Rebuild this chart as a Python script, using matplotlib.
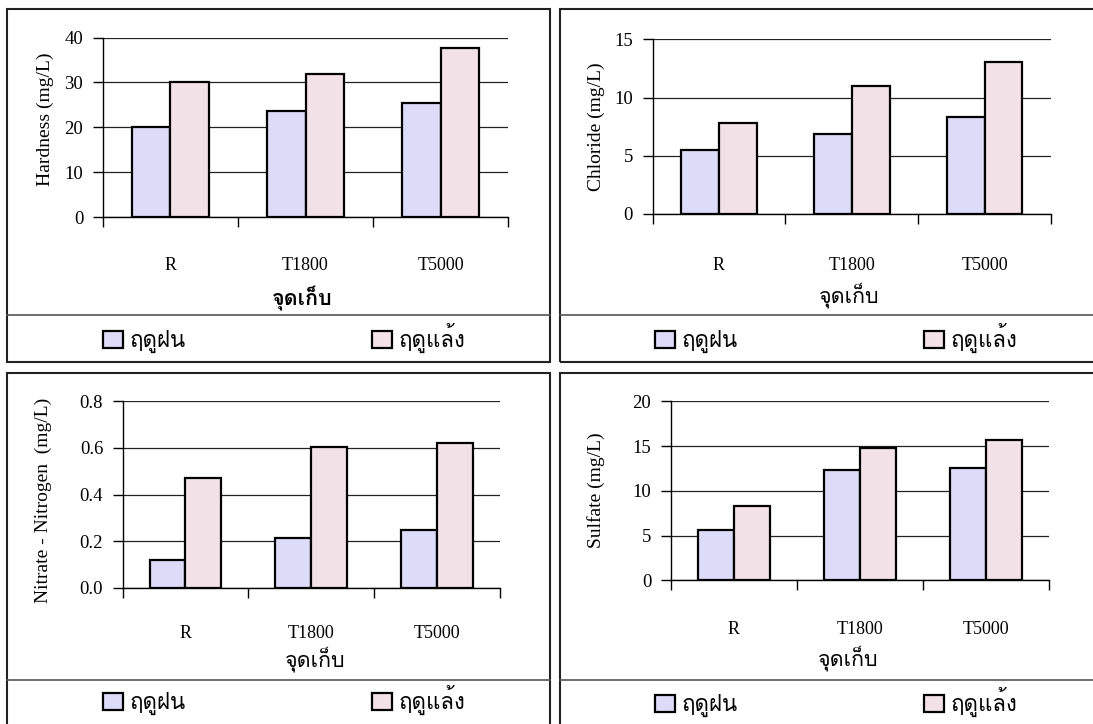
import numpy as np
import matplotlib
matplotlib.use('Agg')
import matplotlib.pyplot as plt
from matplotlib import font_manager
from matplotlib.ft2font import FT2Font
from matplotlib.patches import Rectangle
from matplotlib.lines import Line2D
from matplotlib.ticker import FormatStrFormatter

# sampling points and seasons
categories = ['R', 'T1800', 'T5000']
seasons = ['ฤดูฝน', 'ฤดูแล้ง']
xname = 'จุดเก็บ'

# mg/L, wet season (ฤดูฝน) and dry season (ฤดูแล้ง)
hardness_wet = [20.0, 23.6, 25.5]
hardness_dry = [30.0, 31.8, 37.7]
chloride_wet = [5.5, 6.9, 8.35]
chloride_dry = [7.8, 10.95, 13.05]
nitrate_wet = [0.12, 0.214, 0.248]
nitrate_dry = [0.472, 0.603, 0.621]
sulfate_wet = [5.6, 12.35, 12.55]
sulfate_dry = [8.3, 14.8, 15.7]


def find_thai_font():
    # first installed family that has Thai glyphs
    found = []
    for f in font_manager.fontManager.ttflist:
        try:
            if 0x0E14 in FT2Font(f.fname).get_charmap():
                found.append(f.name)
        except Exception:
            continue
    for pref in ['Tahoma', 'Loma', 'Garuda', 'Norasi', 'Noto Sans Thai', 'Noto Serif Thai']:
        if pref in found:
            return pref
    return found[0] if found else 'DejaVu Sans'


thai = find_thai_font()
plt.rcParams['font.family'] = ['Liberation Serif', thai, 'DejaVu Sans']

W, H = 1093, 724
fig = plt.figure(figsize=(W / 100, H / 100), dpi=100)


def fx(px):
    return px / W


def fy(py):
    return 1 - py / H


wet_color = '#dcdcf8'
dry_color = '#f2e2e8'

panels = [
    dict(ylabel='Hardness (mg/L)', wet=hardness_wet, dry=hardness_dry, ymax=40, step=10, fmt='%d',
         frame=(7, 9, 550, 362), sep=315, box=(102.7, 508.4, 37.5, 217.3),
         ylab=(45, 119), tick_cy=267, xlab=(302, 298), bold=True, leg_y=353, leg_x=(102.7, 372)),
    dict(ylabel='Chloride (mg/L)', wet=chloride_wet, dry=chloride_dry, ymax=15, step=5, fmt='%d',
         frame=(560, 9, 1103, 362), sep=315, box=(652.5, 1051, 39.3, 214),
         ylab=(596, 126.7), tick_cy=267, xlab=(849, 295), bold=False, leg_y=353, leg_x=(655, 924)),
    dict(ylabel='Nitrate - Nitrogen  (mg/L)', wet=nitrate_wet, dry=nitrate_dry, ymax=0.8, step=0.2, fmt='%.1f',
         frame=(7, 373, 550, 728), sep=680, box=(122.6, 499.6, 401.3, 588),
         ylab=(43.5, 500), tick_cy=635, xlab=(315, 659), bold=False, leg_y=715, leg_x=(102.7, 372)),
    dict(ylabel='Sulfate (mg/L)', wet=sulfate_wet, dry=sulfate_dry, ymax=20, step=5, fmt='%d',
         frame=(560, 373, 1103, 728), sep=680, box=(670.6, 1049.4, 401.3, 580.3),
         ylab=(595.7, 490), tick_cy=631, xlab=(848, 658), bold=False, leg_y=717, leg_x=(655, 924)),
]

x = np.arange(len(categories))
bw = 0.285

for p in panels:
    # panel frame and legend divider
    x0, y0, x1, y1 = p['frame']
    fig.add_artist(Rectangle((fx(x0), fy(y1)), fx(x1) - fx(x0), fy(y0) - fy(y1),
                             transform=fig.transFigure, fill=False,
                             edgecolor='#222222', linewidth=1.5))
    fig.add_artist(Line2D([fx(x0), fx(x1)], [fy(p['sep'])] * 2, transform=fig.transFigure,
                          color='#555555', linewidth=1.2))

    l, r, t, b = p['box']
    ax = fig.add_axes([fx(l), fy(b), fx(r) - fx(l), fy(t) - fy(b)])
    b1 = ax.bar(x - bw / 2, p['wet'], bw, color=wet_color, edgecolor='black', linewidth=1.6, zorder=3)
    b2 = ax.bar(x + bw / 2, p['dry'], bw, color=dry_color, edgecolor='black', linewidth=1.6, zorder=3)

    ax.set_xlim(-0.5, 2.5)
    ax.set_ylim(0, p['ymax'])
    ax.set_yticks(np.arange(0, p['ymax'] + p['step'] / 2, p['step']))
    ax.yaxis.set_major_formatter(FormatStrFormatter(p['fmt']))
    ax.grid(axis='y', color='#222222', linewidth=0.9)
    ax.set_axisbelow(True)

    ax.set_xticks(x)
    ax.set_xticklabels(categories)
    ax.set_xticks([-0.5, 0.5, 1.5, 2.5], minor=True)
    pad = (p['tick_cy'] - 10 - b) * 0.72
    ax.tick_params(axis='x', which='major', length=0, pad=pad, labelsize=13)
    ax.tick_params(axis='x', which='minor', length=7, width=1, direction='out')
    ax.tick_params(axis='y', length=7, width=1, pad=7, labelsize=13.5)
    for s in ['top', 'right']:
        ax.spines[s].set_visible(False)
    for s in ['left', 'bottom']:
        ax.spines[s].set_linewidth(1)

    ax.set_ylabel(p['ylabel'], fontsize=14)
    ax.yaxis.label.set_va('center')
    ax.yaxis.set_label_coords((p['ylab'][0] - l) / (r - l), (b - p['ylab'][1]) / (b - t))

    ax.set_xlabel(xname, fontsize=15.5, fontweight='bold' if p['bold'] else 'normal')
    ax.xaxis.label.set_va('center')
    ax.xaxis.set_label_coords((p['xlab'][0] - l) / (r - l), (b - p['xlab'][1]) / (b - t))

    # one legend entry per season, spread across the panel
    for bars, name, lx in zip([b1, b2], seasons, p['leg_x']):
        fig.legend(handles=[bars], labels=[name], loc='lower left',
                   bbox_to_anchor=(fx(lx), fy(p['leg_y'])), frameon=False,
                   borderpad=0, borderaxespad=0, handlelength=0.9, handleheight=0.8,
                   handletextpad=0.3, fontsize=16)

fig.savefig('out.png', dpi=100)
